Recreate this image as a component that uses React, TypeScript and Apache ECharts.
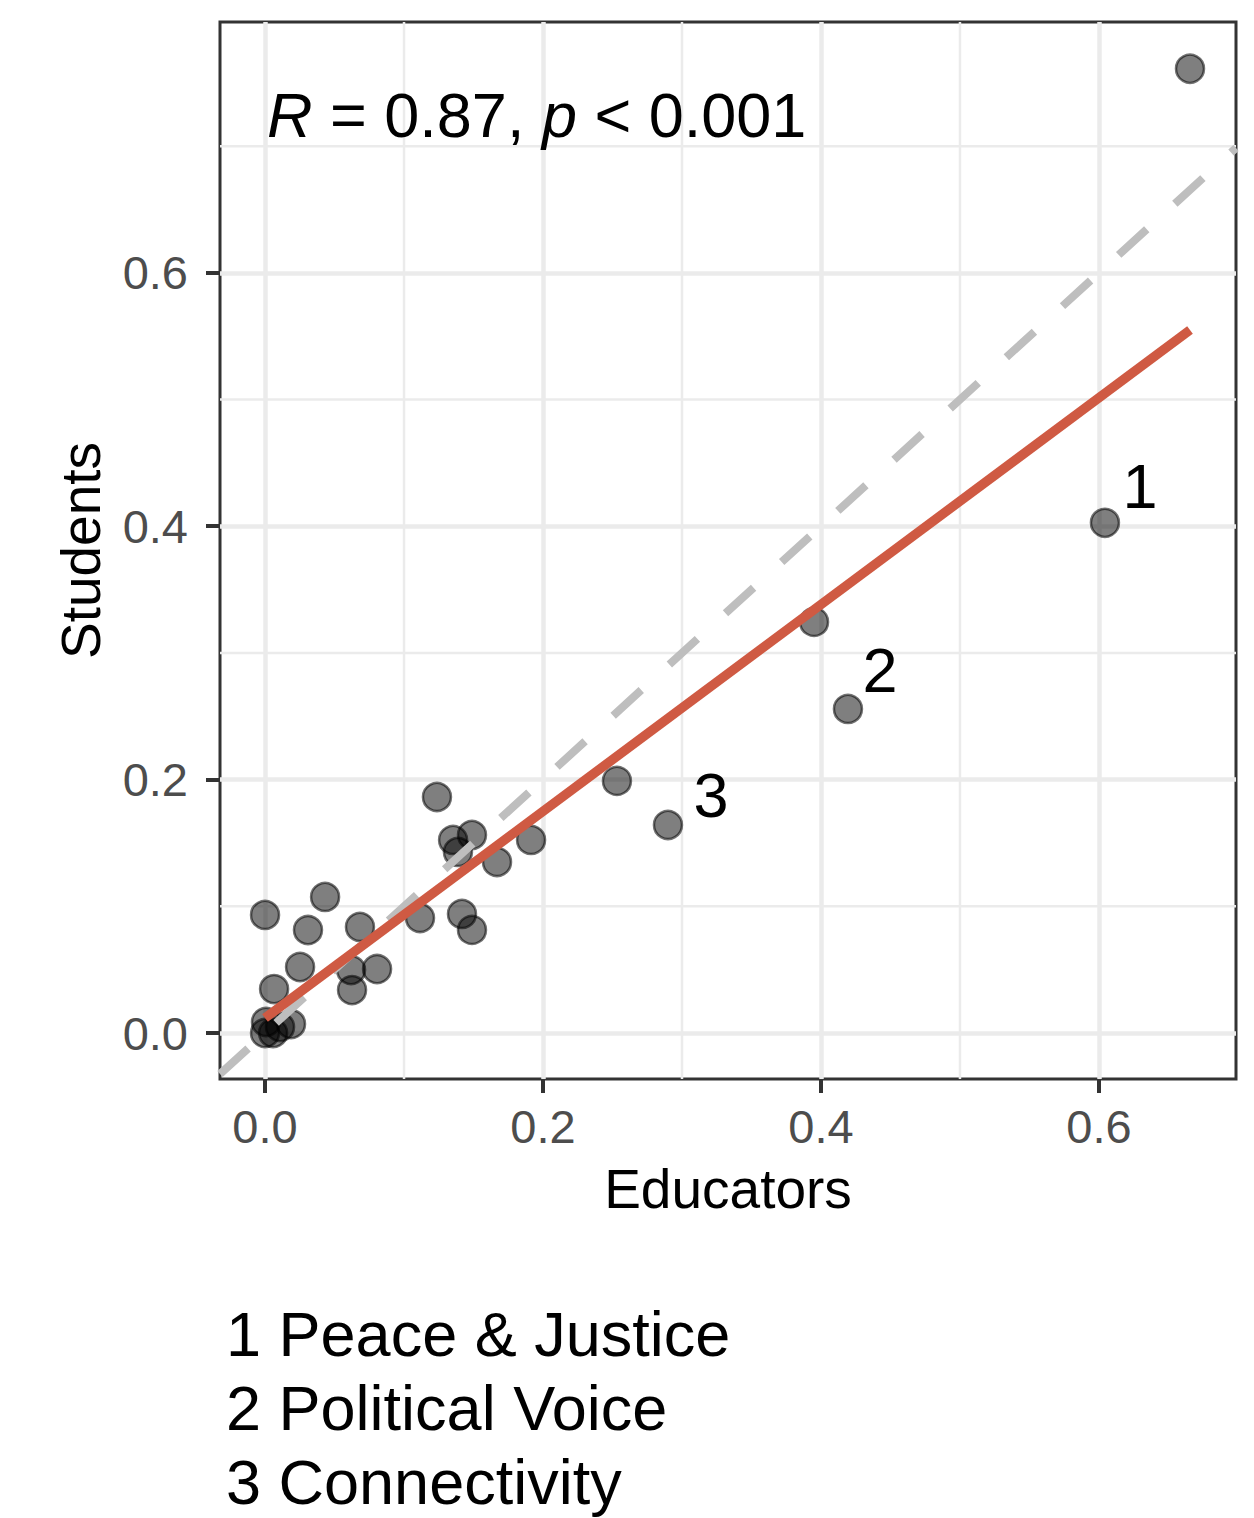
import React, { useEffect, useRef } from "react";
import * as echarts from "echarts";

// ---- data ----
const educators = [
  0.6655, 0.6043, 0.395, 0.4194, 0.2532, 0.2899, 0.1237, 0.1353, 0.1489, 0.1388,
  0.1669, 0.1914, 0.1115, 0.1417, 0.1489, 0.0, 0.0432, 0.0309, 0.0683, 0.0252,
  0.0619, 0.0806, 0.0626, 0.0065, 0.0187, 0.0007, 0.0, 0.0058, 0.0108,
];
const students = [
  0.7611, 0.4027, 0.3245, 0.2558, 0.199, 0.1642, 0.1863, 0.1524, 0.1563, 0.1429,
  0.135, 0.1524, 0.0908, 0.094, 0.0814, 0.0932, 0.1074, 0.0813, 0.0837, 0.0521,
  0.0497, 0.0505, 0.0339, 0.0347, 0.0071, 0.0087, 0.0, 0.0, 0.0047,
];
const pointLabels = [
  "", "1", "", "2", "", "3", "", "", "", "", "", "", "", "", "", "", "", "", "", "",
  "", "", "", "", "", "", "", "", "",
];
const xTicks = [0, 0.2, 0.4, 0.6];
const yTicks = [0, 0.2, 0.4, 0.6];
const xMinor = [0.1, 0.3, 0.5];
const yMinor = [0.1, 0.3, 0.5, 0.7];
const xRange = [-0.0324, 0.6986];
const yRange = [-0.0363, 0.798];
const fitIntercept = 0.0118;
const fitSlope = 0.816;
const statText = "{i|R} = 0.87, {i|p} < 0.001";
const legendLines = ["1 Peace & Justice", "2 Political Voice", "3 Connectivity"];
const xTitle = "Educators";
const yTitle = "Students";

// ---- styles / positions (not data) ----
const FONT = "'Liberation Sans', Arimo, Arial, sans-serif";
const labelNudge: Record<string, [number, number]> = {
  "1": [35, -37],
  "2": [32, -39],
  "3": [43, -30],
};

export default function App() {
  const ref = useRef<HTMLDivElement>(null);

  useEffect(() => {
    if (!ref.current) return;
    const chart = echarts.init(ref.current, undefined, { renderer: "svg" });

    const scatterData = educators.map((x, i) => {
      const lab = pointLabels[i];
      const item: any = { value: [x, students[i]] };
      if (lab) {
        item.label = {
          show: true,
          formatter: lab,
          position: "inside",
          offset: labelNudge[lab],
          fontSize: 63,
          fontFamily: FONT,
          color: "#000",
        };
      }
      return item;
    });

    const xMinData = Math.min(...educators);
    const xMaxData = Math.max(...educators);
    const fitData = [
      [xMinData, fitIntercept + fitSlope * xMinData],
      [xMaxData, fitIntercept + fitSlope * xMaxData],
    ];

    const minorStyle = { color: "#ebebeb", width: 2.5 };
    const minorSeries: any[] = [
      ...xMinor.map((v) => ({
        type: "line",
        data: [
          [v, yRange[0]],
          [v, yRange[1]],
        ],
        symbol: "none",
        silent: true,
        z: 1,
        lineStyle: minorStyle,
      })),
      ...yMinor.map((v) => ({
        type: "line",
        data: [
          [xRange[0], v],
          [xRange[1], v],
        ],
        symbol: "none",
        silent: true,
        z: 1,
        lineStyle: minorStyle,
      })),
    ];

    const fmt = (v: number) => v.toFixed(1);

    chart.setOption({
      animation: false,
      backgroundColor: "#ffffff",
      grid: {
        left: 220,
        right: 18,
        top: 22,
        bottom: 439,
        show: true,
        borderColor: "#333333",
        borderWidth: 3,
        backgroundColor: "transparent",
        containLabel: false,
      },
      xAxis: {
        type: "value",
        min: xRange[0],
        max: xRange[1],
        splitNumber: 4,
        axisLine: { show: false, onZero: false },
        axisTick: {
          show: true,
          customValues: xTicks,
          length: 14,
          lineStyle: { color: "#333333", width: 4 },
        },
        axisLabel: {
          customValues: xTicks,
          formatter: fmt,
          margin: 24,
          fontSize: 47,
          fontFamily: FONT,
          color: "#4d4d4d",
        },
        splitLine: { show: true, lineStyle: { color: "#ebebeb", width: 4.5 } },
        name: xTitle,
        nameLocation: "middle",
        nameGap: 82,
        nameTextStyle: { fontSize: 55, fontFamily: FONT, color: "#000" },
      },
      yAxis: {
        type: "value",
        min: yRange[0],
        max: yRange[1],
        splitNumber: 4,
        axisLine: { show: false, onZero: false },
        axisTick: {
          show: true,
          customValues: yTicks,
          length: 14,
          lineStyle: { color: "#333333", width: 4 },
        },
        axisLabel: {
          customValues: yTicks,
          formatter: fmt,
          margin: 32,
          fontSize: 47,
          fontFamily: FONT,
          color: "#4d4d4d",
        },
        splitLine: { show: true, lineStyle: { color: "#ebebeb", width: 4.5 } },
        name: yTitle,
        nameLocation: "middle",
        nameGap: 112,
        nameTextStyle: { fontSize: 55, fontFamily: FONT, color: "#000" },
      },
      series: [
        ...minorSeries,
        {
          type: "scatter",
          data: scatterData,
          symbol: "circle",
          symbolSize: 28,
          z: 2,
          itemStyle: {
            color: "rgba(0,0,0,0.5)",
            borderColor: "rgba(0,0,0,0.55)",
            borderWidth: 2.5,
            opacity: 1,
          },
        },
        {
          type: "line",
          data: [
            [xRange[0], xRange[0]],
            [xRange[1], xRange[1]],
          ],
          symbol: "none",
          silent: true,
          z: 3,
          lineStyle: { color: "#bebebe", width: 8, type: [38, 38] },
        },
        {
          type: "line",
          data: fitData,
          symbol: "none",
          silent: true,
          z: 4,
          lineStyle: { color: "#cf5a43", width: 9.5 },
        },
      ],
      graphic: [
        {
          type: "text",
          x: 267,
          y: 115,
          z: 10,
          style: {
            text: statText,
            fontSize: 63,
            fontFamily: FONT,
            fill: "#000",
            align: "left",
            verticalAlign: "middle",
            rich: {
              i: { fontStyle: "italic", fontSize: 63, fontFamily: FONT, fill: "#000" },
            },
          },
        },
        ...legendLines.map((t, i) => ({
          type: "text",
          x: 226,
          y: 1334 + i * 74,
          style: {
            text: t,
            fontSize: 63,
            fontFamily: FONT,
            fill: "#000",
            align: "left",
            verticalAlign: "middle",
          },
        })),
      ],
    });

    return () => chart.dispose();
  }, []);

  return (
    <div
      ref={ref}
      style={{ position: "absolute", left: 0, top: 0, width: 1254, height: 1518 }}
    />
  );
}
